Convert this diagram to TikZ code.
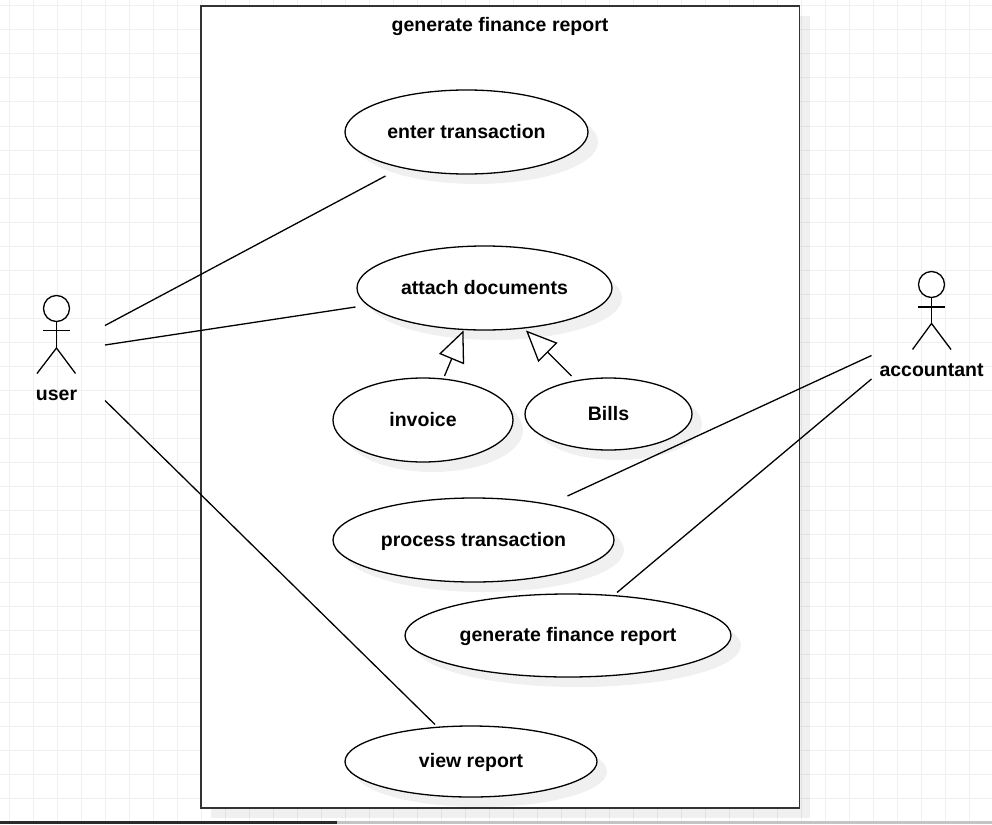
\documentclass[tikz,border=0pt]{standalone}
\usepackage{fontspec}
\setmainfont{Liberation Sans}
\usetikzlibrary{arrows.meta,shapes.geometric,shadows}
\definecolor{gridc}{HTML}{F0F0F0}
\definecolor{framec}{HTML}{333333}
\tikzset{
  usecase/.style={draw=black,fill=white,ellipse,inner sep=0pt,line width=1.3pt,
    font=\bfseries\fontsize{19.5}{24}\selectfont,text height=16pt,text depth=4pt,
    drop shadow={shadow xshift=10pt,shadow yshift=-10pt,fill=black,opacity=0.06}},
  boundary/.style={draw=framec,fill=white,rectangle,inner sep=0pt,line width=1.3pt,
    drop shadow={shadow xshift=10pt,shadow yshift=-10pt,fill=black,opacity=0.06}},
  txt/.style={inner sep=0pt,font=\bfseries\fontsize{19.5}{24}\selectfont,text height=16pt,text depth=4pt},
  assoc/.style={draw=black,line width=1.3pt},
  actorline/.style={draw=black,line width=1.3pt},
  gen/.style={draw=black,line width=1.3pt,miter limit=10,
    -{Triangle[open,fill=white,length=31pt,width=27pt]}}
}
\begin{document}
\begin{tikzpicture}[x=1pt,y=-1pt]
\useasboundingbox (0,0) rectangle (992,824);
% page grid
\foreach \gx in {0,...,40} {\draw[gridc,line width=1pt] ({9.5+24*\gx},0) -- ({9.5+24*\gx},824);}
\foreach \gy in {0,...,34} {\draw[gridc,line width=1pt] (0,{6+24*\gy}) -- (992,{6+24*\gy});}
% bottom bar
\fill[black!83] (0,821) rectangle (337,824);
\fill[black!23] (337,821) rectangle (992,824);
% system boundary
\node[boundary,minimum width=598.5pt,minimum height=802pt] (sys) at (500.25,407) {};
\node[txt] (title) at (500,25.5) {generate finance report};
% use cases
\node[usecase,minimum width=243pt,minimum height=84pt] (enter) at (466.5,132) {enter transaction};
\node[usecase,minimum width=255pt,minimum height=84pt] (attach) at (484.5,288) {attach documents};
\node[usecase,minimum width=180pt,minimum height=84pt] (invoice) at (423,420) {invoice};
\node[usecase,minimum width=167pt,minimum height=72pt] (bills) at (608.5,414) {Bills};
\node[usecase,minimum width=281pt,minimum height=84pt] (process) at (473.5,540) {process transaction};
\node[usecase,minimum width=326pt,minimum height=83pt] (report) at (568,635.5) {generate finance report};
\node[usecase,minimum width=252pt,minimum height=71pt] (view) at (471,761.5) {view report};
% actor: user
\node[draw=black,fill=white,circle,inner sep=0pt,minimum size=26pt,line width=1.3pt] (userhead) at (56.5,308.5) {};
\draw[actorline] (userhead.south) -- (56.5,348) coordinate (userhip);
\draw[actorline] (43,330.5) -- (70,330.5);
\draw[actorline] (37,373.5) -- (userhip) -- (75.5,373.5);
\node[txt] (user) at (56.5,394) {user};
% actor: accountant
\node[draw=black,fill=white,circle,inner sep=0pt,minimum size=26pt,line width=1.3pt] (acchead) at (931.5,284.5) {};
\draw[actorline] (acchead.south) -- (931.5,323.5) coordinate (acchip);
\draw[actorline] (918,307) -- (945,307);
\draw[actorline] (912.5,349.5) -- (acchip) -- (951,349.5);
\node[txt] (accountant) at (931.5,370) {accountant};
% connector ends
\coordinate (u1) at (105,325.5);
\coordinate (u2) at (105,345);
\coordinate (u3) at (105,400.5);
\coordinate (a1) at (871.5,355.5);
\coordinate (a2) at (871.5,379);
\coordinate (e1) at (385.5,176);
\coordinate (e2) at (355.5,307);
\coordinate (e3) at (435,724.5);
\coordinate (e4) at (567.5,496);
\coordinate (e5) at (617,592.5);
\coordinate (i0) at (444.5,376);
\coordinate (i1) at (463.5,330.5);
\coordinate (b0) at (571.5,376);
\coordinate (b1) at (526,330.5);
% connectors
\draw[assoc] (u1) -- (e1);
\draw[assoc] (u2) -- (e2);
\draw[assoc] (u3) -- (e3);
\draw[assoc] (a1) -- (e4);
\draw[assoc] (a2) -- (e5);
\draw[gen] (i0) -- (i1);
\draw[gen] (b0) -- (b1);
\end{tikzpicture}
\end{document}
